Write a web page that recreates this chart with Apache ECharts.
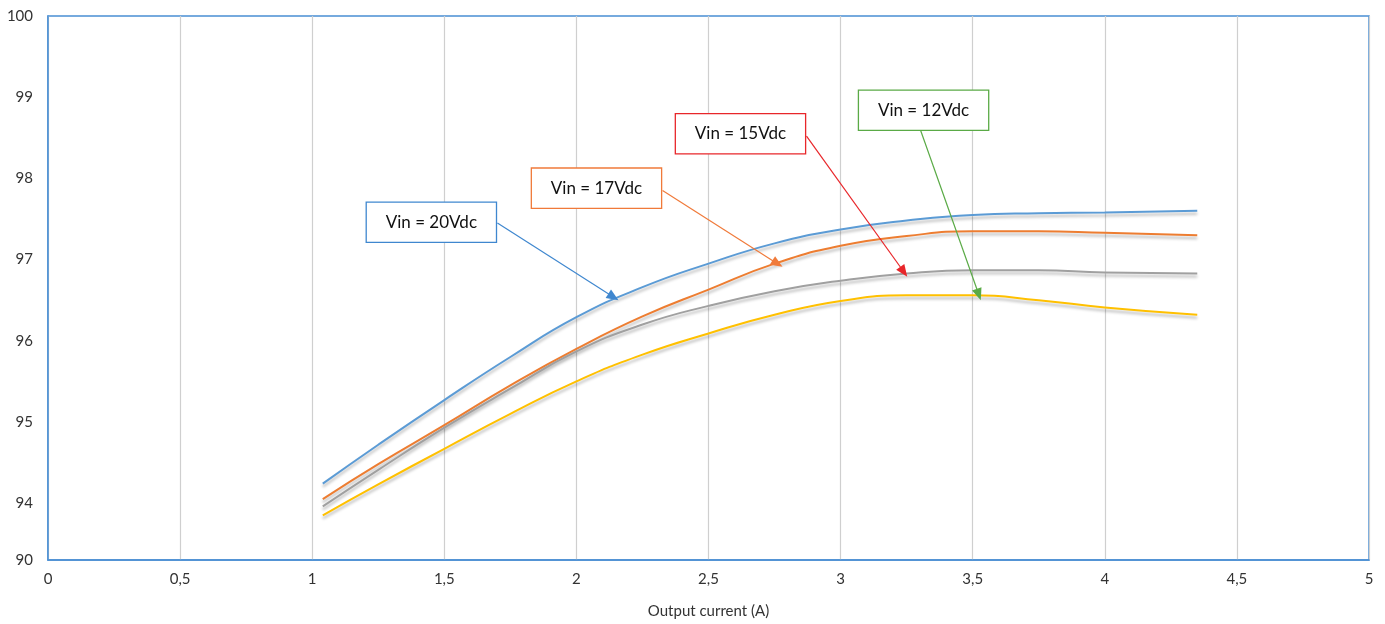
<!DOCTYPE html>
<html>
<head>
<meta charset="utf-8">
<script src="https://cdn.jsdelivr.net/npm/echarts@6/dist/echarts.min.js"></script>
<style>
  html, body { margin: 0; padding: 0; background: #fff; }
  #main { width: 1385px; height: 624px; }
</style>
</head>
<body>
<div id="main"></div>
<script>
// output current (A)
const current = [1.04, 1.25, 1.5, 1.75, 2, 2.25, 2.5, 2.75, 3, 3.25, 3.5, 3.75, 4, 4.35];
// efficiency (%) per input voltage
const vin20 = [94.24, 94.72, 95.27, 95.80, 96.29, 96.66, 96.95, 97.20, 97.37, 97.48, 97.55, 97.57, 97.58, 97.60];
const vin17 = [94.05, 94.48, 94.96, 95.45, 95.90, 96.30, 96.63, 96.95, 97.17, 97.29, 97.35, 97.35, 97.33, 97.30];
const vin15 = [93.96, 94.41, 94.93, 95.41, 95.87, 96.20, 96.43, 96.61, 96.74, 96.83, 96.87, 96.87, 96.84, 96.83];
const vin12 = [93.85, 94.23, 94.67, 95.10, 95.50, 95.83, 96.09, 96.32, 96.49, 96.56, 96.56, 96.50, 96.41, 96.32];

const xTicks = [0, 0.5, 1, 1.5, 2, 2.5, 3, 3.5, 4, 4.5, 5];
// bottom of the axis is a break labelled "90"
const yTicks = [93.3, 94, 95, 96, 97, 98, 99, 100];
const yTickLabels = ['90', '94', '95', '96', '97', '98', '99', '100'];

const labels = ['Vin = 20Vdc', 'Vin = 17Vdc', 'Vin = 15Vdc', 'Vin = 12Vdc'];
const labelPos = [[1.451, 97.46], [2.076, 97.88], [2.621, 98.55], [3.314, 98.84]];
const arrowFrom = [[1.701, 97.45], [2.326, 97.85], [2.871, 98.52], [3.303, 98.59]];
const arrowTo = [[2.140, 96.54], [2.761, 96.95], [3.239, 96.85], [3.523, 96.57]];

const lineColors = ['#5b9bd5', '#ed7d31', '#a0a0a0', '#ffc000'];
const noteColors = ['#3f87cf', '#f07a3a', '#e8262a', '#5aaa46'];

const font = 'Lato, "Open Sans", sans-serif';
const myChart = echarts.init(document.getElementById('main'));

function makeSeries(name, vals, i) {
  return {
    name: name,
    type: 'line',
    smooth: 0.5,
    symbol: 'none',
    data: current.map((x, k) => [x, vals[k]]),
    lineStyle: {
      color: lineColors[i], width: 2,
      shadowColor: 'rgba(0,0,0,0.28)', shadowBlur: 3, shadowOffsetY: 3
    },
    markPoint: {
      symbol: 'circle',
      symbolSize: 1,
      silent: true,
      itemStyle: { color: 'transparent' },
      label: {
        show: true, position: 'inside', formatter: labels[i],
        color: '#111', fontSize: 17, fontFamily: font,
        width: 129, height: 39, lineHeight: 39, align: 'center', verticalAlign: 'middle',
        backgroundColor: '#fff', borderColor: noteColors[i], borderWidth: 1.3, padding: 0
      },
      data: [{ coord: labelPos[i] }]
    },
    markLine: {
      silent: true,
      symbol: ['none', 'triangle'],
      symbolSize: [10, 12],
      label: { show: false },
      lineStyle: { color: noteColors[i], width: 1.2, type: 'solid' },
      data: [[{ coord: arrowFrom[i] }, { coord: arrowTo[i] }]]
    }
  };
}

myChart.setOption({
  animation: false,
  grid: {
    left: 48, right: 16, top: 16, bottom: 59,
    show: true, borderColor: '#4a8fd4', borderWidth: 1.5
  },
  xAxis: {
    type: 'value',
    min: 0, max: 5, interval: 0.5,
    name: 'Output current (A)',
    nameLocation: 'middle',
    nameGap: 44,
    nameTextStyle: { color: '#333', fontSize: 15, fontFamily: font },
    axisLine: { show: true, lineStyle: { color: '#4a8fd4', width: 1.5 } },
    axisTick: { show: false },
    axisLabel: {
      color: '#333', fontSize: 15, fontFamily: font, margin: 12,
      formatter: v => String(v).replace('.', ',')
    },
    splitLine: { show: true, lineStyle: { color: '#cfcfcf', width: 1.2 } }
  },
  yAxis: {
    type: 'value',
    min: 93.3, max: 100,
    axisLine: { show: true, lineStyle: { color: '#4a8fd4', width: 1.5 } },
    axisTick: { show: false },
    splitLine: { show: false },
    axisLabel: {
      customValues: yTicks,
      color: '#333', fontSize: 15, fontFamily: font, margin: 15,
      formatter: v => yTickLabels[yTicks.indexOf(v)]
    }
  },
  series: [
    makeSeries('Vin = 20Vdc', vin20, 0),
    makeSeries('Vin = 17Vdc', vin17, 1),
    makeSeries('Vin = 15Vdc', vin15, 2),
    makeSeries('Vin = 12Vdc', vin12, 3)
  ]
});
</script>
</body>
</html>
